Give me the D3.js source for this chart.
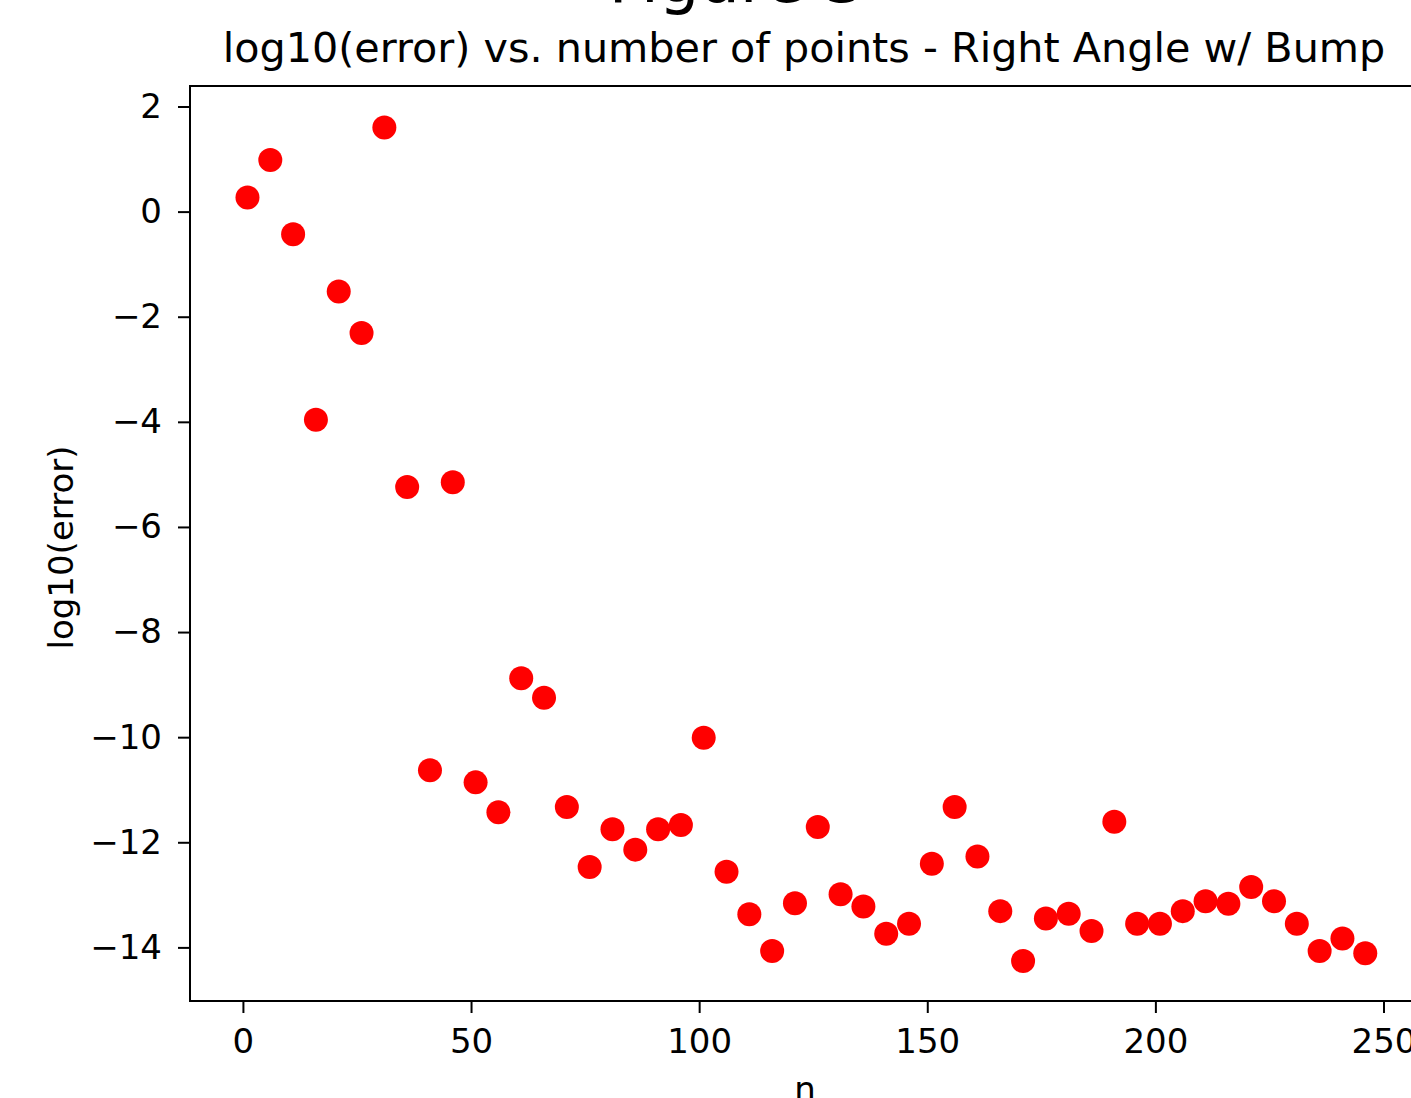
<!DOCTYPE html>
<html>
<head>
<meta charset="utf-8">
<script src="https://cdn.jsdelivr.net/npm/d3@7.9.0/dist/d3.min.js"></script>
<style>
  body { margin: 0; background: #fff; overflow: hidden; }
  svg { display: block; }
  text { font-family: "DejaVu Sans", sans-serif; fill: #000; }
</style>
</head>
<body>
<svg id="chart" width="1411" height="1098"></svg>
<script>
// number of points used
const nValues = [1, 6, 11, 16, 21, 26, 31, 36, 41, 46,
  51, 56, 61, 66, 71, 76, 81, 86, 91, 96,
  101, 106, 111, 116, 121, 126, 131, 136, 141, 146,
  151, 156, 161, 166, 171, 176, 181, 186, 191, 196,
  201, 206, 211, 216, 221, 226, 231, 236, 241, 246];

// log10(error)
const logErr = [0.27, 0.98, -0.43, -3.96, -1.52, -2.31, 1.60, -5.24, -10.63, -5.15,
  -10.86, -11.43, -8.88, -9.25, -11.33, -12.47, -11.75, -12.14, -11.75, -11.67,
  -10.01, -12.56, -13.37, -14.07, -13.16, -11.71, -12.99, -13.22, -13.74, -13.55,
  -12.41, -11.33, -12.27, -13.31, -14.26, -13.45, -13.36, -13.69, -11.61, -13.55,
  -13.55, -13.31, -13.12, -13.17, -12.85, -13.12, -13.55, -14.07, -13.83, -14.11];

const xTicks = [0, 50, 100, 150, 200, 250];
const yTicks = [2, 0, -2, -4, -6, -8, -10, -12, -14];

const points = nValues.map((n, i) => ({ n: n, e: logErr[i] }));

const svg = d3.select('#chart');

// plot area (right spine falls just off the page)
const plotLeft = 190, plotRight = 1420, plotTop = 86, plotBottom = 1001;

const x = d3.scaleLinear().domain([-11.6, 258]).range([plotLeft, plotRight]);
const y = d3.scaleLinear().domain([-15.02, 2.39]).range([plotBottom, plotTop]);

// minus sign like matplotlib
const fmt = (d) => String(d).replace('-', '\u2212');

// x axis
const xAxis = svg.append('g')
  .attr('transform', `translate(0,${plotBottom})`)
  .call(d3.axisBottom(x).tickValues(xTicks).tickSize(12).tickPadding(16).tickFormat(fmt));

// y axis
const yAxis = svg.append('g')
  .attr('transform', `translate(${plotLeft},0)`)
  .call(d3.axisLeft(y).tickValues(yTicks).tickSize(12).tickPadding(16).tickFormat(fmt));

[xAxis, yAxis].forEach((g) => {
  g.select('.domain').remove();
  g.selectAll('.tick line').attr('stroke', '#000').attr('stroke-width', 2);
  g.selectAll('.tick text')
    .attr('font-family', '"DejaVu Sans", sans-serif')
    .attr('font-size', 34)
    .attr('fill', '#000');
});

// frame of the axes
svg.append('rect')
  .attr('x', plotLeft)
  .attr('y', plotTop)
  .attr('width', plotRight - plotLeft)
  .attr('height', plotBottom - plotTop)
  .attr('fill', 'none')
  .attr('stroke', '#000')
  .attr('stroke-width', 2);

// scatter points
svg.append('g')
  .selectAll('circle')
  .data(points)
  .join('circle')
  .attr('cx', (d) => x(d.n))
  .attr('cy', (d) => y(d.e))
  .attr('r', 12)
  .attr('fill', '#ff0000');

// figure label, mostly cut off at the top
svg.append('text')
  .attr('x', 737)
  .attr('y', 2)
  .attr('text-anchor', 'middle')
  .attr('font-family', '"Liberation Sans", sans-serif')
  .attr('font-size', 64)
  .text('Figure 3');

// title
svg.append('text')
  .attr('x', (plotLeft + plotRight) / 2 - 1)
  .attr('y', 62)
  .attr('text-anchor', 'middle')
  .attr('font-size', 41.3)
  .text('log10(error) vs. number of points - Right Angle w/ Bump');

// axis labels
svg.append('text')
  .attr('x', (plotLeft + plotRight) / 2)
  .attr('y', 1101)
  .attr('text-anchor', 'middle')
  .attr('font-size', 34)
  .text('n');

svg.append('text')
  .attr('transform', `translate(73,${(plotTop + plotBottom) / 2 + 4}) rotate(-90)`)
  .attr('text-anchor', 'middle')
  .attr('font-size', 34)
  .text('log10(error)');
</script>
</body>
</html>
